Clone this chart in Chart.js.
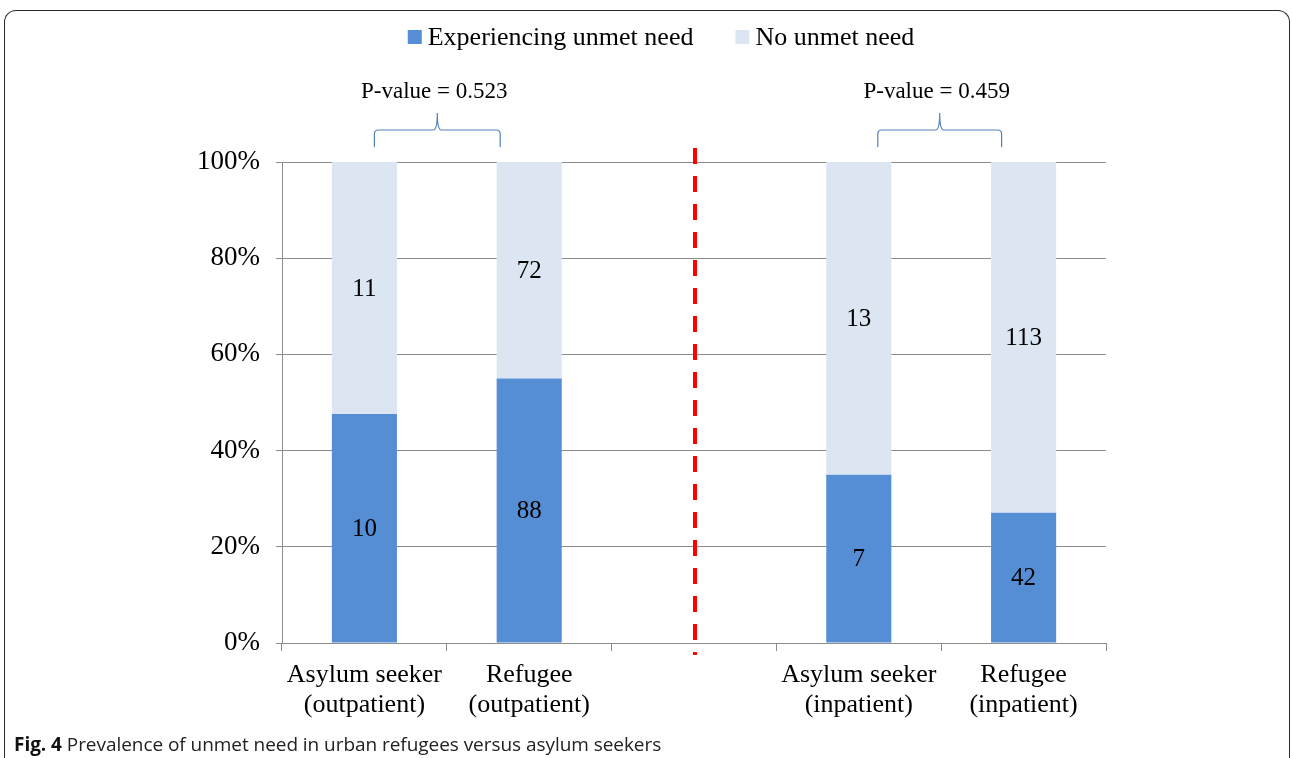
<!DOCTYPE html>
<html>
<head>
<meta charset="utf-8">
<script src="https://cdn.jsdelivr.net/npm/chart.js@4"></script>
<style>
  html, body { margin: 0; padding: 0; background: #fff; }
  body { width: 1292px; height: 758px; position: relative; overflow: hidden; }
  #frame {
    position: absolute; left: 4px; top: 10px; width: 1284px; height: 760px;
    border: 1.5px solid #2a2a2a; border-bottom: none; border-radius: 12px 12px 0 0;
  }
  #wrap { position: absolute; left: 0; top: 0; width: 1292px; height: 758px; }
  #caption {
    position: absolute; left: 14px; top: 731px; font-family: "Open Sans", sans-serif;
    font-size: 19px; color: #222; white-space: nowrap; letter-spacing: -0.05px;
  }
  #caption b { color: #111; }
</style>
</head>
<body>
<div id="frame"></div>
<div id="wrap"><canvas id="chart"></canvas></div>
<div id="caption"><b>Fig. 4</b> Prevalence of unmet need in urban refugees versus asylum seekers</div>
<script>
const categories = [
  ["Asylum seeker", "(outpatient)"],
  ["Refugee", "(outpatient)"],
  "",
  ["Asylum seeker", "(inpatient)"],
  ["Refugee", "(inpatient)"],
];
const seriesNames = ["Experiencing unmet need", "No unmet need"];
const unmetCounts = [10, 88, null, 7, 42];
const noUnmetCounts = [11, 72, null, 13, 113];
const yTicks = [0, 20, 40, 60, 80, 100];
const pValues = [
  { from: 0, to: 1, text: "P-value = 0.523" },
  { from: 3, to: 4, text: "P-value = 0.459" },
];
const dividerIndex = 2;

const totals = unmetCounts.map((v, i) => (v == null ? null : v + noUnmetCounts[i]));
const unmetPct = unmetCounts.map((v, i) => (v == null ? null : (v / totals[i]) * 100));
const noUnmetPct = noUnmetCounts.map((v, i) => (v == null ? null : (v / totals[i]) * 100));
const counts = [unmetCounts, noUnmetCounts];

const SERIF = "'Liberation Serif', 'DejaVu Serif', serif";
const colors = ["#558ed5", "#dce6f2"];

const overlay = {
  id: "overlay",
  afterDatasetsDraw(chart) {
    const ctx = chart.ctx;
    const x = chart.scales.x;
    const y = chart.scales.y;
    ctx.save();

    // counts inside the segments
    ctx.font = "25px " + SERIF;
    ctx.fillStyle = "#000";
    ctx.textAlign = "center";
    ctx.textBaseline = "middle";
    chart.data.datasets.forEach((ds, di) => {
      chart.getDatasetMeta(di).data.forEach((bar, i) => {
        if (counts[di][i] == null) return;
        const p = bar.getProps(["x", "y", "base"], true);
        ctx.fillText(String(counts[di][i]), p.x, (p.y + p.base) / 2 + 1);
      });
    });

    // red dashed divider
    const dx = x.getPixelForValue(dividerIndex) + 1;
    ctx.strokeStyle = "#ff0000";
    ctx.lineWidth = 4;
    ctx.setLineDash([16, 12]);
    ctx.beginPath();
    ctx.moveTo(dx, y.top - 14);
    ctx.lineTo(dx, y.bottom + 12);
    ctx.stroke();
    ctx.setLineDash([]);

    // braces + p-values
    const offs = [[10, -29], [19, -22]];
    pValues.forEach((pv, k) => {
      const x1 = x.getPixelForValue(pv.from) + offs[k][0];
      const x2 = x.getPixelForValue(pv.to) + offs[k][1];
      const xm = (x1 + x2) / 2;
      const yb = y.top - 15, yh = y.top - 32, yp = y.top - 49;
      ctx.strokeStyle = "#4f81bd";
      ctx.lineWidth = 1.2;
      ctx.beginPath();
      ctx.moveTo(x1, yb);
      ctx.lineTo(x1, yh + 4);
      ctx.quadraticCurveTo(x1, yh, x1 + 4, yh);
      ctx.lineTo(xm - 4, yh);
      ctx.quadraticCurveTo(xm, yh, xm, yp);
      ctx.quadraticCurveTo(xm, yh, xm + 4, yh);
      ctx.lineTo(x2 - 4, yh);
      ctx.quadraticCurveTo(x2, yh, x2, yh + 4);
      ctx.lineTo(x2, yb);
      ctx.stroke();
      ctx.fillStyle = "#000";
      ctx.font = "23px " + SERIF;
      ctx.fillText(pv.text, xm - 3, y.top - 70);
    });

    // legend
    ctx.font = "26px " + SERIF;
    ctx.textAlign = "left";
    const box = 14, gapText = 6, gapItem = 42;
    const widths = seriesNames.map(n => ctx.measureText(n).width);
    const total = widths.reduce((a, w) => a + box + gapText + w, 0) + gapItem;
    let lx = 661 - total / 2;
    const ly = 37;
    seriesNames.forEach((n, i) => {
      ctx.fillStyle = colors[i];
      ctx.fillRect(lx, ly - box / 2, box, box);
      ctx.fillStyle = "#000";
      ctx.fillText(n, lx + box + gapText, ly + 1);
      lx += box + gapText + widths[i] + gapItem;
    });
    ctx.restore();
  },
};

new Chart(document.getElementById("chart"), {
  type: "bar",
  data: {
    labels: categories,
    datasets: [
      { label: seriesNames[0], data: unmetPct, backgroundColor: colors[0] },
      { label: seriesNames[1], data: noUnmetPct, backgroundColor: colors[1] },
    ],
  },
  options: {
    responsive: true,
    maintainAspectRatio: false,
    animation: false,
    categoryPercentage: 1,
    barPercentage: 0.395,
    layout: { padding: { top: 162, right: 186, bottom: 35, left: 0 } },
    plugins: {
      legend: { display: false },
      tooltip: { enabled: false },
    },
    scales: {
      x: {
        stacked: true,
        grid: { drawOnChartArea: false, tickLength: 8, color: "#8c8c8c" },
        border: { color: "#8c8c8c" },
        ticks: { color: "#000", padding: 10, font: { family: SERIF, size: 26, lineHeight: 1.12 } },
        afterFit(scale) { scale.height = 80; },
      },
      y: {
        stacked: true,
        min: 0,
        max: 100,
        afterBuildTicks(scale) { scale.ticks = yTicks.map(v => ({ value: v })); },
        grid: { tickLength: 6, color: "#8c8c8c" },
        border: { color: "#8c8c8c" },
        ticks: {
          color: "#000",
          padding: 16,
          font: { family: SERIF, size: 27 },
          callback: v => v + "%",
        },
        afterFit(scale) { scale.width = 282; },
      },
    },
  },
  plugins: [overlay],
});
</script>
</body>
</html>
